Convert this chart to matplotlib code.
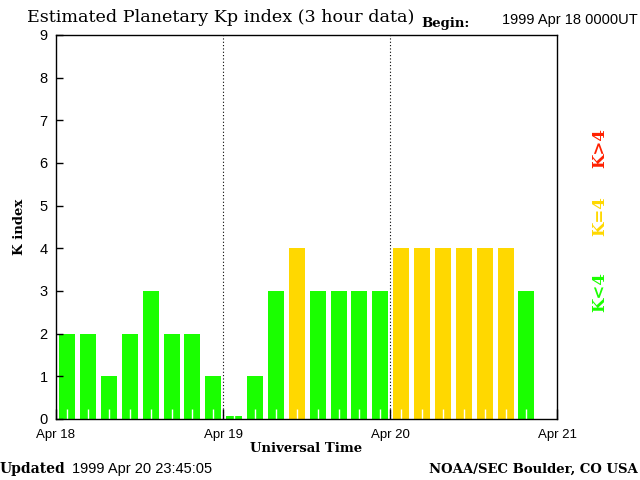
import numpy as np
import matplotlib.pyplot as plt

# Kp values, one per 3 hour interval starting 1999 Apr 18 00 UT
kp = [2, 2, 1, 2, 3, 2, 2, 1,
      0.08, 1, 3, 4, 3, 3, 3, 3,
      4, 4, 4, 4, 4, 4, 3]
day_labels = ["Apr 18", "Apr 19", "Apr 20", "Apr 21"]

green = "#1aff00"
yellow = "#ffd800"
red = "#ff2000"

hours = np.arange(len(kp)) * 3 + 1.6
colors = [green if k < 4 else (yellow if k == 4 else red) for k in kp]

serif = "DejaVu Serif"
sans = "Liberation Sans"

fig = plt.figure(figsize=(6.4, 4.8), dpi=100)
ax = fig.add_axes([56 / 640, 1 - 419 / 480, 501 / 640, 384 / 480])

ax.bar(hours, kp, width=2.3, color=colors, linewidth=0)

ax.set_xlim(0, 72)
ax.set_ylim(0, 9)

for d in [24, 48]:
    ax.axvline(d, color="black", linestyle=(0, (1, 2)), linewidth=0.8)

ax.set_xticks([0, 24, 48, 72])
ax.set_xticklabels(day_labels, family=sans, fontsize=9.5)
ax.set_xticks(hours, minor=True)
ax.tick_params(axis="x", which="major", direction="in", length=7, width=1, pad=7)
ax.tick_params(axis="x", which="minor", direction="in", length=7, width=1, color="white")

ax.set_yticks(range(10))
ax.set_yticklabels([str(i) for i in range(10)], family=sans, fontsize=10.5)
ax.tick_params(axis="y", direction="in", length=5, width=1, pad=6)

for s in ax.spines.values():
    s.set_linewidth(1)

ax.set_xlabel("Universal Time", family=serif, fontweight="bold", fontsize=9.5, labelpad=1)
ax.set_ylabel("K index", family=serif, fontweight="bold", fontsize=9.5, labelpad=10)

fig.text(27 / 640, 1 - 18 / 480, "Estimated Planetary Kp index (3 hour data)",
         family=serif, fontsize=12.6, va="center", ha="left")
fig.text(421 / 640, 1 - 23 / 480, "Begin:", family=serif, fontweight="bold",
         fontsize=9.5, va="center", ha="left")
fig.text(638 / 640, 1 - 20 / 480, "1999 Apr 18 0000UT", family=sans,
         fontsize=10.5, va="center", ha="right")

fig.text(0, 1 - 469 / 480, "Updated", family=serif, fontweight="bold",
         fontsize=10, va="center", ha="left")
fig.text(72 / 640, 1 - 469 / 480, "1999 Apr 20 23:45:05", family=sans,
         fontsize=10.5, va="center", ha="left")
fig.text(638 / 640, 1 - 469 / 480, "NOAA/SEC Boulder, CO USA", family=serif,
         fontweight="bold", fontsize=9.5, va="center", ha="right")

fig.text(600 / 640, 1 - 148 / 480, "K>4", color=red, family=serif, fontweight="bold",
         fontsize=12, rotation=90, va="center", ha="center")
fig.text(600 / 640, 1 - 216 / 480, "K=4", color=yellow, family=serif, fontweight="bold",
         fontsize=12, rotation=90, va="center", ha="center")
fig.text(600 / 640, 1 - 292 / 480, "K<4", color=green, family=serif, fontweight="bold",
         fontsize=12, rotation=90, va="center", ha="center")

fig.savefig("out.png", dpi=100)
